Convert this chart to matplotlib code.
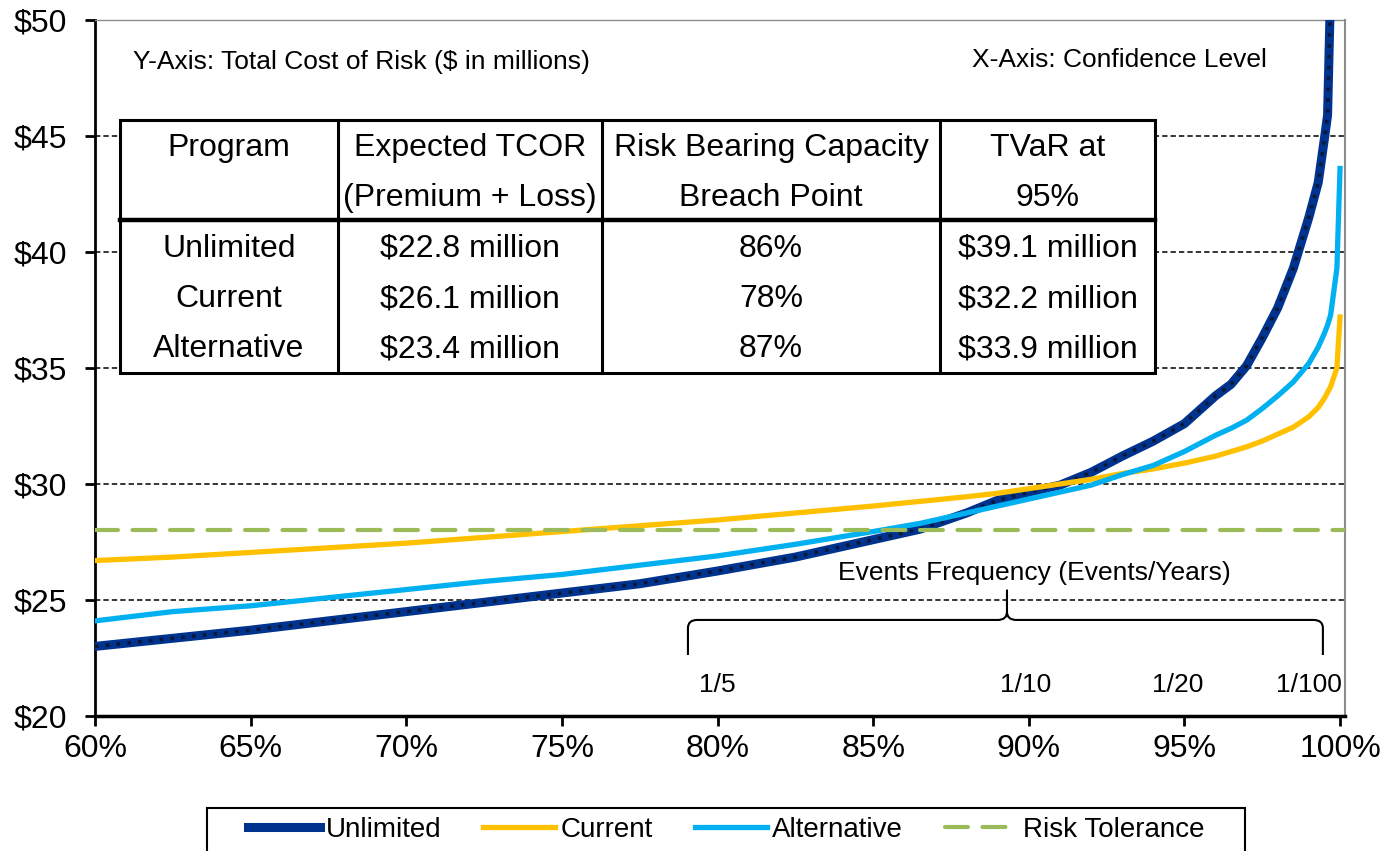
import numpy as np
import matplotlib.pyplot as plt
from matplotlib.patches import Rectangle, PathPatch
from matplotlib.path import Path
from matplotlib.ticker import FuncFormatter

plt.rcParams['font.family'] = ['Liberation Sans', 'DejaVu Sans']

# confidence levels and total cost of risk ($ millions)
conf = [0.60, 0.625, 0.65, 0.675, 0.70, 0.725, 0.75, 0.775, 0.80, 0.825,
        0.85, 0.865, 0.88, 0.89, 0.90, 0.91, 0.92, 0.93, 0.94, 0.95,
        0.96, 0.965, 0.97, 0.975, 0.98, 0.985, 0.99, 0.993, 0.995, 0.996,
        0.997, 0.999, 1.0]
unlimited = [23.0, 23.35, 23.7, 24.1, 24.5, 24.9, 25.3, 25.7, 26.25, 26.85,
             27.6, 28.05, 28.75, 29.3, 29.65, 29.95, 30.5, 31.2, 31.85, 32.6,
             33.8, 34.3, 35.1, 36.3, 37.6, 39.3, 41.5, 43.0, 44.9, 45.9,
             51.5, np.nan, np.nan]
current = [26.7, 26.85, 27.05, 27.25, 27.45, 27.7, 27.95, 28.2, 28.45, 28.75,
           29.05, 29.25, 29.45, 29.6, 29.8, 30.0, 30.2, 30.45, 30.65, 30.9,
           31.2, 31.4, 31.6, 31.85, 32.15, 32.45, 32.9, 33.3, 33.7, 33.95,
           34.2, 35.0, 37.2]
alternative = [24.1, 24.5, 24.75, 25.1, 25.45, 25.8, 26.1, 26.5, 26.9, 27.4,
               27.95, 28.3, 28.75, 29.05, 29.35, 29.65, 29.95, 30.4, 30.8, 31.4,
               32.1, 32.4, 32.75, 33.25, 33.8, 34.4, 35.2, 35.9, 36.5, 36.85,
               37.3, 39.3, 43.6]
risk_tolerance = 28.0

# summary table
programs = ['Unlimited', 'Current', 'Alternative']
expected_tcor = ['$22.8 million', '$26.1 million', '$23.4 million']
breach_point = ['86%', '78%', '87%']
tvar_95 = ['$39.1 million', '$32.2 million', '$33.9 million']
header_top = ['Program', 'Expected TCOR', 'Risk Bearing Capacity', 'TVaR at']
header_bottom = ['', '(Premium + Loss)', 'Breach Point', '95%']

freq_labels = ['1/5', '1/10', '1/20', '1/100']
freq_conf = [0.80, 0.899, 0.948, 0.99]

W, H = 1389, 851
fig = plt.figure(figsize=(W / 100, H / 100), dpi=100)
ax = fig.add_axes([95 / W, 1 - 716 / H, 1250 / W, 696 / H])

ax.plot(conf, unlimited, color='#00338e', lw=6.5, label='Unlimited', zorder=3)
ax.plot(conf, unlimited, color='#0a1838', lw=2.6, ls=(0, (1, 2)), zorder=3.1)
ax.plot(conf, current, color='#ffc000', lw=3.8, label='Current', zorder=3.2)
ax.plot(conf, alternative, color='#00b0f0', lw=3.8, label='Alternative', zorder=3.3)
ax.axhline(risk_tolerance, color='#9bbb59', lw=3, ls=(0, (5.5, 3.5)),
           dash_capstyle='round', label='Risk Tolerance', zorder=3.4)

ax.set_xlim(0.6, 1.0016)
ax.set_ylim(20, 50)
ax.set_xticks(np.arange(0.60, 1.001, 0.05))
ax.set_yticks(range(20, 51, 5))
ax.xaxis.set_major_formatter(FuncFormatter(lambda v, p: f'{v * 100:.0f}%'))
ax.yaxis.set_major_formatter(FuncFormatter(lambda v, p: f'${v:.0f}'))
ax.tick_params(axis='both', direction='out', length=7, width=2, labelsize=23)
ax.tick_params(axis='y', pad=13)
ax.tick_params(axis='x', pad=6)

ax.yaxis.grid(True, color='black', lw=1.1, ls=(0, (3.5, 2)))
ax.set_axisbelow(True)
ax.spines['left'].set_linewidth(2)
ax.spines['bottom'].set_linewidth(2.5)
ax.spines['right'].set_color('#8c8c8c')
ax.spines['right'].set_linewidth(1.5)
ax.spines['top'].set_color('#8c8c8c')
ax.spines['top'].set_linewidth(1)

ax.text(0.0304, 0.9397, 'Y-Axis: Total Cost of Risk ($ in millions)',
        transform=ax.transAxes, fontsize=19, ha='left', va='center')
ax.text(0.9376, 0.9425, 'X-Axis: Confidence Level',
        transform=ax.transAxes, fontsize=19, ha='right', va='center')


def axp(px, py):
    # pixel position in the figure -> axes fraction
    return (px - 95) / 1250, (716 - py) / 696


# table
col_edges = [120, 338, 602, 940, 1155]
top, mid, bottom = 120, 220, 373
ax.add_patch(Rectangle(axp(col_edges[0], bottom), (col_edges[-1] - col_edges[0]) / 1250,
                       (bottom - top) / 696, transform=ax.transAxes, facecolor='white',
                       edgecolor='black', lw=2.2, zorder=4, clip_on=False))
for cx in col_edges[1:-1]:
    x_, y0 = axp(cx, bottom)
    _, y1 = axp(cx, top)
    ax.plot([x_, x_], [y0, y1], color='black', lw=2.2, transform=ax.transAxes, zorder=5)
xa, ym = axp(col_edges[0], mid)
xb, _ = axp(col_edges[-1], mid)
ax.plot([xa, xb], [ym, ym], color='black', lw=3.2, transform=ax.transAxes, zorder=5)

centers = [(a + b) / 2 for a, b in zip(col_edges[:-1], col_edges[1:])]
for i, c in enumerate(centers):
    for txt, py in [(header_top[i], 148), (header_bottom[i], 198)]:
        ax.text(*axp(c, py), txt, transform=ax.transAxes, fontsize=23,
                ha='center', va='center', zorder=6)
rows = list(zip(programs, expected_tcor, breach_point, tvar_95))
for r, row in enumerate(rows):
    for i, txt in enumerate(row):
        ax.text(*axp(centers[i], 249 + 50 * r), txt, transform=ax.transAxes,
                fontsize=23, ha='center', va='center', zorder=6)

# events frequency brace
x0, x1, xm = 0.7905, 0.9945, 0.893
yb, yh, yt = 22.63, 24.14, 25.45
dx, dy = 0.003, 0.35
verts = [(x0, yb), (x0, yh - dy), (x0, yh), (x0 + dx, yh), (xm - dx, yh),
         (xm, yh), (xm, yh + dy), (xm, yt),
         (xm, yh + dy), (xm, yh), (xm + dx, yh), (x1 - dx, yh),
         (x1, yh), (x1, yh - dy), (x1, yb)]
codes = [Path.MOVETO, Path.LINETO, Path.CURVE3, Path.CURVE3, Path.LINETO,
         Path.CURVE3, Path.CURVE3, Path.LINETO,
         Path.MOVETO, Path.CURVE3, Path.CURVE3, Path.LINETO,
         Path.CURVE3, Path.CURVE3, Path.LINETO]
ax.add_patch(PathPatch(Path(verts, codes), fill=False, edgecolor='black', lw=1.5, zorder=5))
ax.text(0.9017, 26.16, 'Events Frequency (Events/Years)', fontsize=19,
        ha='center', va='center', zorder=6)
for lab, c in zip(freq_labels, freq_conf):
    ax.text(c, 21.34, lab, fontsize=19, ha='center', va='center', zorder=6)

# legend
handles, labels = ax.get_legend_handles_labels()
fig.legend(handles, labels, loc='center', bbox_to_anchor=(726 / W, 1 - 830 / H),
           ncol=4, frameon=False, fontsize=20, handlelength=2.6,
           handletextpad=0.2, columnspacing=1.5)
fig.add_artist(Rectangle((207 / W, 1 - 862 / H), (1245 - 207) / W, (862 - 808) / H,
                         transform=fig.transFigure, fill=False, edgecolor='black', lw=1.5))

fig.savefig('out.png', dpi=100)
